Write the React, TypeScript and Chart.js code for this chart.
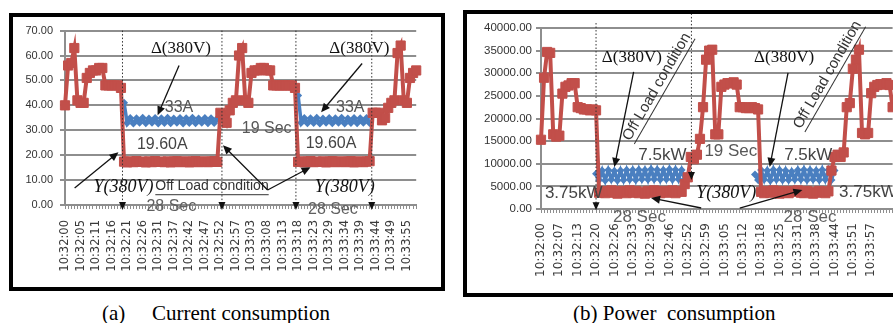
import React, { useEffect, useRef } from "react";
import { Chart, registerables } from "chart.js";

Chart.register(...registerables);

const _ = null;

// ---------- (a) Current consumption ----------
const currentTickLabels = [
  "10:32:00", "10:32:05", "10:32:11", "10:32:16", "10:32:21", "10:32:26", "10:32:31", "10:32:37",
  "10:32:42", "10:32:47", "10:32:52", "10:32:57", "10:33:03", "10:33:08", "10:33:13", "10:33:18",
  "10:33:23", "10:33:29", "10:33:34", "10:33:39", "10:33:44", "10:33:49", "10:33:55",
];
const currentPointsPerTick = 5;
// Y (star) connection current, A
const currentStar = [
  40, 56, 57, 63, 42, 41, 41, 51, 53, 54, 54, 55, 55, 48, 48, 48, 48, 48, 47,
  17.4, 17.1, 17.5, 17.2, 17.6, 17.3, 17.4, 17.1, 17.5, 17.2, 17.6, 17.3, 17.4, 17.2, 17.5, 17.1,
  17.4, 17.6, 17.2, 17.3, 17.5, 17.1, 17.4, 17.6, 17.2, 17.3, 17.5, 17.2, 17.4, 17.6, 17.3,
  37, 36, 33, 38, 41, 42, 60, 63, 42, 41, 53, 54, 54, 55, 55, 54, 54, 48, 48, 48, 48, 48, 48, 48, 47,
  17.3, 17.5, 17.1, 17.4, 17.6, 17.2, 17.4, 17.3, 17.5, 17.1, 17.4, 17.6, 17.2, 17.3, 17.5, 17.2,
  17.4, 17.6, 17.1, 17.3, 17.5, 17.2, 17.4, 17.6,
  37, 37, 37, 34, 35, 39, 41, 42, 61, 64, 42, 41, 51, 53, 54,
];
// Delta connection current, A
const currentDelta = [
  _, _, _, _, _, _, _, _, _, _, _, _, _, _, _, _, _, _, _,
  41, 32.9, 34.9, 32.7, 34.8, 33.0, 35.0, 32.8, 34.7, 33.0, 34.9, 32.7, 34.8, 32.9, 35.0, 32.8,
  34.7, 33.0, 34.9, 32.7, 34.8, 32.9, 35.0, 32.8, 34.7, 33.0, 34.9, 32.8, 34.8, 32.9, 34.7,
  _, _, _, _, _, _, _, _, _, _, _, _, _, _, _, _, _, _, _, _, _, _, _, _, _,
  44, 33.0, 34.9, 32.8, 34.8, 32.9, 35.0, 32.7, 34.7, 33.0, 34.9, 32.8, 34.8, 33.0, 35.0, 32.7,
  34.7, 32.9, 34.9, 32.8, 34.8, 33.0, 34.9, 32.9,
  _, _, _, _, _, _, _, _, _, _, _, _, _, _, _,
];

// ---------- (b) Power consumption ----------
const powerTickLabels = [
  "10:32:00", "10:32:07", "10:32:13", "10:32:20", "10:32:26", "10:32:33", "10:32:39", "10:32:46",
  "10:32:52", "10:32:59", "10:33:05", "10:33:12", "10:33:18", "10:33:25", "10:33:31", "10:33:38",
  "10:33:44", "10:33:51", "10:33:57",
];
const powerPointsPerTick = 6;
const powerStar = [
  15300, 29000, 34700, 34500, 16500, 16000, 16200, 25500, 27000, 27300, 27800, 27800, 22500, 22300,
  22000, 22000, 21800, 22000, 21800,
  3600, 4000, 3500, 3900, 4100, 3600, 3400, 4000, 3800, 3500, 4100, 3600, 4000, 3500, 3800, 3400,
  4000, 3600, 4100, 3800, 3500, 4000, 3600, 3800, 4100, 3500, 4000, 3800,
  5500, 7000, 11500, 11000, 12000,
  15500, 22500, 33000, 35000, 35200, 16500, 16500, 27000, 27500, 27800, 27800, 28000, 27500, 22500,
  22500, 22300, 22300, 22500, 22300, 22000,
  3800, 3500, 4000, 3600, 4100, 3800, 3400, 4000, 3600, 3500, 4000, 3800, 4100, 3600, 3500, 4000,
  3800, 3400, 3600, 4000, 3800, 3500, 3900,
  8500, 11500, 12000, 11500, 12500, 22500, 23400, 31000, 33000, 35200, 16800, 16500, 16800, 25600,
  27000, 27400, 27600, 27500, 27800, 27400, 22500,
];
const powerDelta = [
  _, _, _, _, _, _, _, _, _, _, _, _, _, _, _, _, _, _,
  7800, 6400, 8500, 6300, 8600, 6500, 8400, 6300, 8500, 6400, 8600, 6500, 8600, 6400, 8700, 6600,
  8600, 6500, 8800, 6600, 8700, 6500, 8600, 6600, 8800, 6500, 8700, 6600, 8600, 6500,
  _, _, _, _, _, _, _, _, _, _, _, _, _, _, _, _, _, _, _, _, _, _,
  7600, 6400, 8600, 6500, 8500, 6300, 8700, 6500, 8600, 6400, 8500, 6400, 8300, 6500, 8600, 6500,
  8700, 6400, 8600, 6500, 8500, 6400, 8700, 6500, 8600, 6400, 8500,
  _, _, _, _, _, _, _, _, _, _, _, _, _, _, _, _, _, _, _,
];

// ---------- styles ----------
const RED = "#c24f4a";
const BLUE = "#4a7fc0";
const GRID = "#8e8e8e";
const SERIF = '"Liberation Serif", "Times New Roman", serif';
const SANS = '"Liberation Sans", Arial, sans-serif';

type Ann =
  | { kind: "text"; x: number; y: number; t: string; font: string; color?: string; align?: CanvasTextAlign; underline?: boolean; rot?: number; sx?: number }
  | { kind: "arrow"; x1: number; y1: number; x2: number; y2: number }
  | { kind: "drop"; x: number; y1: number; y2: number };

const deltaFont = `17px ${SERIF}`;
const starFont = `italic 18px ${SERIF}`;

const currentAnn: Ann[] = [
  { kind: "drop", x: 18.5, y1: 70, y2: -2 },
  { kind: "drop", x: 50.5, y1: 70, y2: -2 },
  { kind: "drop", x: 74.3, y1: 70, y2: -2 },
  { kind: "drop", x: 98.7, y1: 70, y2: -2 },
  { kind: "text", x: 37.3, y: 62.8, t: "Δ(380V)", font: deltaFont, color: "#111" },
  { kind: "text", x: 94.7, y: 62.8, t: "Δ(380V)", font: deltaFont, color: "#111" },
  { kind: "arrow", x1: 36.7, y1: 56, x2: 29.8, y2: 36 },
  { kind: "arrow", x1: 95.6, y1: 56.8, x2: 82.4, y2: 37.2 },
  { kind: "text", x: 36.7, y: 39.2, t: "33A", font: `16px ${SANS}`, color: "#555" },
  { kind: "text", x: 91.8, y: 39.2, t: "33A", font: `16px ${SANS}`, color: "#555" },
  { kind: "text", x: 31.3, y: 24.2, t: "19.60A", font: `16px ${SANS}`, color: "#444" },
  { kind: "text", x: 85.6, y: 24.6, t: "19.60A", font: `16px ${SANS}`, color: "#444" },
  { kind: "text", x: 64.9, y: 30.8, t: "19 Sec", font: `16px ${SANS}`, color: "#585858" },
  { kind: "text", x: 18.8, y: 7.2, t: "Y(380V)", font: starFont, color: "#111" },
  { kind: "text", x: 90, y: 7.2, t: "Y(380V)", font: starFont, color: "#111" },
  { kind: "text", x: 47.3, y: 7.5, t: "Off Load condition", font: `14px ${SANS}`, color: "#333", underline: true },
  { kind: "arrow", x1: 3.1, y1: 6.8, x2: 17.2, y2: 21.2 },
  { kind: "arrow", x1: 65.2, y1: 6, x2: 50.8, y2: 24 },
  { kind: "arrow", x1: 65.2, y1: 6, x2: 79, y2: 15.2 },
  { kind: "text", x: 34.2, y: -0.8, t: "28 Sec", font: `16px ${SANS}`, color: "#606060" },
  { kind: "text", x: 86.2, y: -2, t: "28 Sec", font: `16px ${SANS}`, color: "#606060" },
];

const powerAnn: Ann[] = [
  { kind: "drop", x: 18, y1: 41100, y2: -300 },
  { kind: "drop", x: 49.2, y1: 44000, y2: 6400 },
  { kind: "text", x: 29.7, y: 33400, t: "Δ(380V)", font: deltaFont, color: "#111" },
  { kind: "text", x: 79.5, y: 33400, t: "Δ(380V)", font: deltaFont, color: "#111" },
  { kind: "arrow", x1: 30.3, y1: 30300, x2: 24, y2: 9300 },
  { kind: "arrow", x1: 80.8, y1: 30080, x2: 74.8, y2: 9300 },
  { kind: "text", x: 37.9, y: 27000, t: "Off Load condition", font: `15px ${SANS}`, color: "#333", underline: true, rot: 60 },
  { kind: "text", x: 93.7, y: 29640, t: "Off Load condition", font: `15px ${SANS}`, color: "#333", underline: true, rot: 60 },
  { kind: "text", x: 39.7, y: 11950, t: "7.5kW", font: `17px ${SANS}`, color: "#444" },
  { kind: "text", x: 87.4, y: 11950, t: "7.5kW", font: `17px ${SANS}`, color: "#444" },
  { kind: "text", x: 62.1, y: 12830, t: "19 Sec", font: `17px ${SANS}`, color: "#585858" },
  { kind: "text", x: 10.7, y: 3540, t: "3.75kW", font: `17px ${SANS}`, color: "#444" },
  { kind: "text", x: 97.5, y: 3760, t: "3.75kW", font: `17px ${SANS}`, color: "#444", align: "left" },
  { kind: "text", x: 60.6, y: 3540, t: "Y(380V)", font: starFont, color: "#111" },
  { kind: "arrow", x1: 52.4, y1: 220, x2: 36, y2: 2430 },
  { kind: "arrow", x1: 65, y1: 220, x2: 85.5, y2: 4200 },
  { kind: "text", x: 32.2, y: -1770, t: "28 Sec", font: `17px ${SANS}`, color: "#606060" },
  { kind: "text", x: 88, y: -1770, t: "28 Sec", font: `17px ${SANS}`, color: "#606060" },
];

function arrowHead(ctx: CanvasRenderingContext2D, x1: number, y1: number, x2: number, y2: number, len = 8, half = 3.5) {
  const a = Math.atan2(y2 - y1, x2 - x1);
  ctx.beginPath();
  ctx.moveTo(x2, y2);
  ctx.lineTo(x2 - len * Math.cos(a) + half * Math.sin(a), y2 - len * Math.sin(a) - half * Math.cos(a));
  ctx.lineTo(x2 - len * Math.cos(a) - half * Math.sin(a), y2 - len * Math.sin(a) + half * Math.cos(a));
  ctx.closePath();
  ctx.fill();
}

function makeAnnPlugin(items: Ann[]) {
  return {
    id: "figAnn",
    afterDatasetsDraw(chart: any) {
      const xs = chart.scales.x;
      const ys = chart.scales.y;
      const ctx: CanvasRenderingContext2D = chart.ctx;
      const X = (v: number) => xs.getPixelForValue(v);
      const Y = (v: number) => ys.getPixelForValue(v);
      ctx.save();
      for (const it of items) {
        if (it.kind === "drop") {
          const x = X(it.x);
          const ya = Y(it.y1);
          const yb = Y(it.y2);
          ctx.strokeStyle = "#333";
          ctx.lineWidth = 1;
          ctx.setLineDash([1.5, 2]);
          ctx.beginPath();
          ctx.moveTo(x, ya);
          ctx.lineTo(x, yb - 6);
          ctx.stroke();
          ctx.setLineDash([]);
          ctx.fillStyle = "#111";
          arrowHead(ctx, x, ya, x, yb, 8, 3.5);
        } else if (it.kind === "arrow") {
          const x1 = X(it.x1), y1 = Y(it.y1), x2 = X(it.x2), y2 = Y(it.y2);
          ctx.strokeStyle = "#111";
          ctx.fillStyle = "#111";
          ctx.lineWidth = 1.3;
          ctx.setLineDash([]);
          ctx.beginPath();
          ctx.moveTo(x1, y1);
          const a = Math.atan2(y2 - y1, x2 - x1);
          ctx.lineTo(x2 - 6 * Math.cos(a), y2 - 6 * Math.sin(a));
          ctx.stroke();
          arrowHead(ctx, x1, y1, x2, y2, 9, 4);
        } else {
          const x = X(it.x), y = Y(it.y);
          ctx.save();
          ctx.translate(x, y);
          if (it.rot) ctx.rotate((-it.rot * Math.PI) / 180);
          if (it.sx) ctx.scale(it.sx, 1);
          ctx.font = it.font;
          ctx.fillStyle = it.color || "#000";
          ctx.textAlign = it.align || "center";
          ctx.textBaseline = "middle";
          ctx.fillText(it.t, 0, 0);
          if (it.underline) {
            const w = ctx.measureText(it.t).width;
            const size = parseFloat(it.font.replace(/^[^0-9]*/, ""));
            const x0 = it.align === "left" ? 0 : -w / 2;
            ctx.strokeStyle = it.color || "#000";
            ctx.lineWidth = 1;
            ctx.beginPath();
            ctx.moveTo(x0, size * 0.6);
            ctx.lineTo(x0 + w, size * 0.6);
            ctx.stroke();
          }
          ctx.restore();
        }
      }
      ctx.restore();
    },
  };
}

function buildLabels(tickLabels: string[], perTick: number, n: number) {
  return Array.from({ length: n }, (_v, i) =>
    i % perTick === 0 && tickLabels[i / perTick] ? tickLabels[i / perTick] : ""
  );
}

type Spec = {
  labels: string[];
  star: (number | null)[];
  delta: (number | null)[];
  yMax: number;
  yStep: number;
  yWidth: number;
  xHeight: number;
  padding: { top: number; right: number; left: number; bottom: number };
  xFont: number;
  yFont: number;
  xPad: number;
  yPad: number;
  ann: Ann[];
};

function makeConfig(s: Spec): any {
  return {
    type: "line",
    data: {
      labels: s.labels,
      datasets: [
        {
          data: s.star,
          borderColor: RED,
          backgroundColor: RED,
          borderWidth: 4,
          pointStyle: "rect",
          pointRadius: 6.5,
          pointBorderWidth: 1,
          pointBackgroundColor: RED,
          pointBorderColor: RED,
          tension: 0,
        },
        {
          data: s.delta,
          borderColor: BLUE,
          backgroundColor: BLUE,
          borderWidth: 3.5,
          pointStyle: "rectRot",
          pointRadius: 4,
          pointBorderWidth: 0,
          pointBackgroundColor: BLUE,
          tension: 0,
          spanGaps: false,
        },
      ],
    },
    options: {
      responsive: false,
      maintainAspectRatio: false,
      animation: false,
      events: [],
      layout: { padding: s.padding },
      plugins: {
        legend: { display: false },
        tooltip: { enabled: false },
        title: { display: false },
      },
      scales: {
        x: {
          type: "category",
          offset: false,
          grid: { drawOnChartArea: false, drawTicks: true, tickLength: 4, color: GRID, lineWidth: 1 },
          border: { color: GRID, width: 2 },
          ticks: {
            autoSkip: false,
            maxRotation: 90,
            minRotation: 90,
            padding: s.xPad,
            color: "#3a3a3a",
            font: { family: "DejaVu Sans", size: s.xFont },
          },
          afterFit: (sc: any) => {
            sc.height = s.xHeight;
          },
        },
        y: {
          min: 0,
          max: s.yMax,
          grid: { color: GRID, lineWidth: 2, tickLength: 5 },
          border: { color: GRID, width: 2 },
          ticks: {
            stepSize: s.yStep,
            padding: s.yPad,
            color: "#333",
            font: { family: "Liberation Sans", size: s.yFont },
            callback: (v: any) => Number(v).toFixed(2),
          },
          afterFit: (sc: any) => {
            sc.width = s.yWidth;
          },
        },
      },
    },
    plugins: [makeAnnPlugin(s.ann)],
  };
}

function ChartCanvas({ spec, style, width, height }: { spec: Spec; style: React.CSSProperties; width: number; height: number }) {
  const ref = useRef<HTMLCanvasElement | null>(null);
  useEffect(() => {
    if (!ref.current) return;
    const chart = new Chart(ref.current, makeConfig(spec));
    return () => chart.destroy();
  }, [spec]);
  return <canvas ref={ref} width={width} height={height} style={{ position: "absolute", display: "block", width, height, ...style }} />;
}

const currentSpec: Spec = {
  labels: buildLabels(currentTickLabels, currentPointsPerTick, currentStar.length),
  star: currentStar,
  delta: currentDelta,
  yMax: 70,
  yStep: 10,
  yWidth: 52,
  xHeight: 82,
  padding: { top: 13, right: 15.5, left: 0, bottom: 0 },
  xFont: 11.5,
  yFont: 11,
  xPad: 11,
  yPad: 7,
  ann: currentAnn,
};

const powerSpec: Spec = {
  labels: buildLabels(powerTickLabels, powerPointsPerTick, powerStar.length),
  star: powerStar,
  delta: powerDelta,
  yMax: 40000,
  yStep: 5000,
  yWidth: 74,
  xHeight: 83,
  padding: { top: 14, right: 11.5, left: 0, bottom: 0 },
  xFont: 12,
  yFont: 11.5,
  xPad: 10,
  yPad: 4,
  ann: powerAnn,
};

export default function App() {
  const caption: React.CSSProperties = {
    position: "absolute",
    top: 301,
    fontFamily: SERIF,
    fontSize: 21,
    lineHeight: "24px",
    color: "#000",
    whiteSpace: "pre",
  };
  return (
    <div style={{ position: "fixed", left: 0, top: 0, width: 893, height: 323, overflow: "hidden", background: "#fff" }}>
      <div style={{ position: "absolute", left: 9, top: 13, width: 436, height: 278, border: "4px solid #000", boxSizing: "border-box" }} />
      <ChartCanvas spec={currentSpec} width={428} height={270} style={{ left: 13, top: 17 }} />
      <div style={{ position: "absolute", left: 463, top: 10, width: 470, height: 287, border: "4px solid #000", boxSizing: "border-box" }} />
      <ChartCanvas spec={powerSpec} width={450} height={278} style={{ left: 467, top: 14 }} />
      <div style={{ ...caption, left: 102 }}>(a)</div>
      <div style={{ ...caption, left: 152 }}>Current consumption</div>
      <div style={{ ...caption, left: 573 }}>(b) Power  consumption</div>
    </div>
  );
}
